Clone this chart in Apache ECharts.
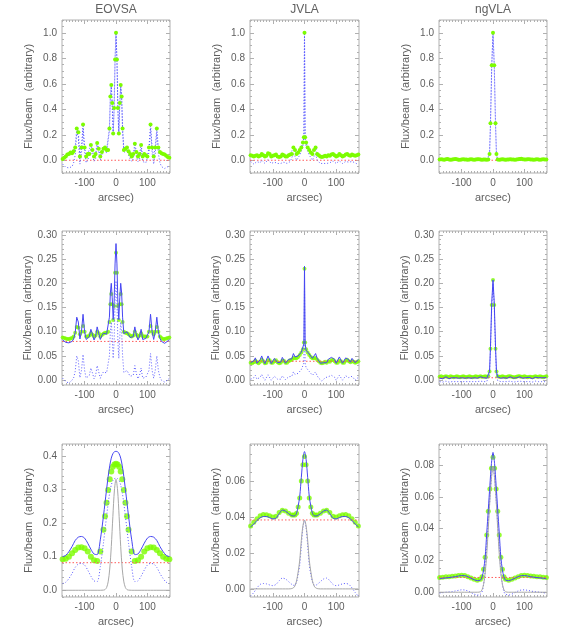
<!DOCTYPE html>
<html>
<head>
<meta charset="utf-8">
<script src="https://cdn.jsdelivr.net/npm/echarts@6/dist/echarts.min.js"></script>
<style>
html, body { margin: 0; padding: 0; background: #fff; }
#main { width: 566px; height: 638px; }
</style>
</head>
<body>
<div id="main"></div>
<script>
// ---- x grids (arcsec) ----
const xE = [-170,-165,-160,-155,-150,-145,-140,-135,-130,-125,-120,-115,-110,-105,-100,-95,-90,-85,-80,-75,-70,-65,-60,-55,-50,-45,-40,-35,-30,-25,
  -21,-18,-15,-12,-9,-6,-3,0,3,6,9,12,15,18,21,
  25,30,35,40,45,50,55,60,65,70,75,80,85,90,95,100,105,110,115,120,125,130,135,140,145,150,155,160,165,170];
const xJ = [-170,-165,-160,-155,-150,-145,-140,-135,-130,-125,-120,-115,-110,-105,-100,-95,-90,-85,-80,-75,-70,-65,-60,-55,-50,-45,-40,-35,-30,-25,-20,-15,-10,-5,
  -2,0,2,
  5,10,15,20,25,30,35,40,45,50,55,60,65,70,75,80,85,90,95,100,105,110,115,120,125,130,135,140,145,150,155,160,165,170];
const xN = [-170,-165,-160,-155,-150,-145,-140,-135,-130,-125,-120,-115,-110,-105,-100,-95,-90,-85,-80,-75,-70,-65,-60,-55,-50,-45,-40,-35,-30,-25,-20,-15,
  -11,-8,-4,0,4,8,11,
  15,20,25,30,35,40,45,50,55,60,65,70,75,80,85,90,95,100,105,110,115,120,125,130,135,140,145,150,155,160,165,170];
const x3 = [-170,-160,-150,-140,-130,-120,-110,-100,-90,-80,-70,-60,-50,-40,
  -35,-30,-25,-20,-15,-10,-5,0,5,10,15,20,25,30,35,
  40,50,60,70,80,90,100,110,120,130,140,150,160,170];

// ---- row 1 ----
const e1g = [0.01,0.02,0.03,0.045,0.05,0.06,0.055,0.07,0.1,0.25, 0.22,0.03,0.1,0.28,0.1,0.03,0.05,0.05,0.12,0.08, 0.03,0.05,0.135,0.09,0.03,0.065,0.09,0.1,0.08,0.08,
  0.25,0.5,0.59,0.45,0.21,0.41,0.79,1.0,0.79,0.41,0.21,0.45,0.59,0.5,0.25,
  0.08,0.09,0.1,0.07,0.05,0.03,0.05,0.13,0.065,0.03, 0.05,0.12,0.03,0.05,0.04,0.03,0.1,0.28,0.1,0.03, 0.1,0.25,0.1,0.065,0.055,0.05,0.045,0.035,0.025,0.02];
const e1d = [-0.03,-0.045,-0.055,-0.06,-0.06,-0.055,-0.05,-0.02,0.04,0.22, 0.18,-0.03,0.05,0.25,0.06,-0.02,0.0,0.01,0.09,0.04, -0.01,0.01,0.11,0.06,0.0,0.04,0.07,0.08,0.06,0.06,
  0.23,0.49,0.58,0.43,0.2,0.4,0.79,1.0,0.79,0.4,0.2,0.43,0.58,0.49,0.23,
  0.06,0.07,0.08,0.04,0.01,-0.01,0.01,0.1,0.03,-0.01, 0.01,0.09,-0.01,0.0,-0.02,-0.03,0.06,0.25,0.06,-0.03, 0.05,0.22,0.05,-0.02,-0.05,-0.06,-0.065,-0.06,-0.05,-0.04];
const j1g = [0.04,0.035,0.03,0.035,0.04,0.03,0.035,0.05,0.04,0.03, 0.035,0.055,0.05,0.03,0.035,0.04,0.045,0.03,0.025,0.03, 0.045,0.04,0.03,0.03,0.04,0.045,0.05,0.1,0.08,0.05, 0.06,0.08,0.1,0.14,
  0.18,1.0,0.18,
  0.14,0.1,0.08,0.06, 0.05,0.08,0.1,0.05,0.04,0.03,0.025,0.03,0.035,0.03, 0.04,0.035,0.045,0.05,0.04,0.03,0.035,0.05,0.04,0.03, 0.035,0.045,0.05,0.04,0.035,0.045,0.04,0.035,0.04,0.045];
const j1d = [-0.01,-0.02,-0.03,-0.02,-0.01,-0.025,-0.02,0.0,-0.01,-0.025, -0.02,0.005,0.0,-0.025,-0.02,-0.015,-0.01,-0.025,-0.03,-0.025, -0.01,-0.015,-0.025,-0.025,-0.015,-0.01,-0.005,0.05,0.03,0.0, 0.02,0.04,0.07,0.11,
  0.17,1.0,0.17,
  0.11,0.07,0.04,0.02, 0.0,0.03,0.05,0.0,-0.015,-0.025,-0.03,-0.025,-0.02,-0.025, -0.015,-0.02,-0.01,-0.005,-0.015,-0.025,-0.02,-0.005,-0.015,-0.025, -0.02,-0.01,-0.005,-0.015,-0.02,-0.01,-0.015,-0.02,-0.03,-0.035];
const n1g = [0.005,0.008,0.006,0.004,0.007,0.009,0.006,0.004,0.005,0.008, 0.01,0.007,0.004,0.003,0.006,0.008,0.006,0.005,0.004,0.005, 0.007,0.006,0.004,0.005,0.008,0.007,0.005,0.004,0.006,0.005, 0.004,0.006,
  0.05,0.29,0.745,1.0,0.745,0.29,0.05,
  0.005,0.004, 0.006,0.007,0.005,0.004,0.005,0.006,0.008,0.006,0.005,0.004, 0.006,0.007,0.009,0.011,0.008,0.006,0.005,0.007,0.008,0.006, 0.005,0.004,0.006,0.007,0.005,0.004,0.006,0.008,0.006,0.005];
const n1d = [-0.002,0.0,-0.002,-0.004,-0.001,0.001,-0.002,-0.004,-0.003,0.0, 0.002,-0.001,-0.004,-0.005,-0.002,0.0,-0.002,-0.003,-0.004,-0.003, -0.001,-0.002,-0.004,-0.003,0.0,-0.001,-0.003,-0.004,-0.002,-0.003, -0.004,-0.002,
  0.045,0.285,0.74,1.0,0.74,0.285,0.045,
  -0.003,-0.004, -0.002,-0.001,-0.003,-0.004,-0.003,-0.002,0.0,-0.002,-0.003,-0.004, -0.002,-0.001,0.001,0.003,0.0,-0.002,-0.003,-0.001,0.0,-0.002, -0.003,-0.004,-0.002,-0.001,-0.003,-0.004,-0.002,0.0,-0.002,-0.003];

// ---- row 2 ----
const e2s = [0.083,0.08,0.078,0.077,0.077,0.078,0.08,0.085,0.098,0.13, 0.12,0.085,0.1,0.136,0.1,0.084,0.088,0.09,0.105,0.095, 0.083,0.09,0.11,0.097,0.084,0.092,0.097,0.1,0.095,0.096,
  0.13,0.18,0.2,0.17,0.125,0.16,0.24,0.282,0.24,0.16,0.125,0.17,0.2,0.18,0.13,
  0.096,0.097,0.1,0.094,0.088,0.084,0.09,0.11,0.093,0.083, 0.09,0.105,0.084,0.088,0.086,0.084,0.1,0.136,0.1,0.084, 0.1,0.13,0.1,0.086,0.08,0.077,0.076,0.078,0.081,0.084];
const e2g = [0.088,0.087,0.086,0.085,0.085,0.086,0.087,0.09,0.098,0.11, 0.108,0.095,0.1,0.112,0.1,0.09,0.09,0.092,0.097,0.094, 0.09,0.092,0.1,0.097,0.09,0.093,0.096,0.098,0.098,0.1,
  0.12,0.157,0.178,0.157,0.124,0.153,0.222,0.263,0.222,0.153,0.124,0.157,0.178,0.157,0.12,
  0.1,0.098,0.097,0.095,0.092,0.09,0.092,0.1,0.094,0.09, 0.092,0.097,0.091,0.09,0.09,0.09,0.1,0.112,0.1,0.095, 0.1,0.11,0.1,0.09,0.087,0.085,0.085,0.086,0.087,0.088];
const e2d = [0.004,0.0,-0.003,-0.005,-0.006,-0.004,0.0,0.005,0.018,0.05, 0.04,0.005,0.02,0.053,0.02,0.004,0.008,0.01,0.025,0.015, 0.003,0.01,0.03,0.017,0.004,0.012,0.017,0.02,0.015,0.016,
  0.05,0.1,0.12,0.09,0.045,0.08,0.16,0.205,0.16,0.08,0.045,0.09,0.12,0.1,0.05,
  0.016,0.017,0.02,0.014,0.008,0.004,0.01,0.03,0.013,0.003, 0.01,0.025,0.004,0.008,0.006,0.004,0.02,0.055,0.02,0.004, 0.02,0.05,0.02,0.006,0.0,-0.003,-0.004,-0.002,0.001,0.004];
const j2s = [0.036,0.034,0.04,0.046,0.035,0.033,0.042,0.05,0.04,0.034, 0.038,0.05,0.046,0.034,0.038,0.045,0.048,0.036,0.033,0.037, 0.047,0.044,0.035,0.035,0.043,0.046,0.044,0.055,0.048,0.045, 0.05,0.054,0.058,0.062,
  0.075,0.235,0.075,
  0.062,0.058,0.054,0.05, 0.045,0.048,0.055,0.045,0.04,0.035,0.033,0.036,0.04,0.036, 0.043,0.04,0.047,0.05,0.043,0.035,0.038,0.048,0.044,0.035, 0.038,0.046,0.05,0.042,0.037,0.045,0.042,0.036,0.038,0.043];
const j2g = [0.036,0.035,0.037,0.04,0.037,0.035,0.038,0.042,0.039,0.035, 0.036,0.041,0.041,0.036,0.036,0.039,0.041,0.037,0.035,0.036, 0.04,0.04,0.036,0.036,0.039,0.041,0.042,0.046,0.045,0.045, 0.048,0.052,0.057,0.064,
  0.078,0.23,0.078,
  0.064,0.057,0.052,0.048, 0.045,0.045,0.046,0.042,0.039,0.036,0.035,0.036,0.038,0.036, 0.039,0.038,0.041,0.042,0.039,0.036,0.036,0.04,0.039,0.036, 0.036,0.04,0.042,0.039,0.037,0.039,0.038,0.036,0.037,0.039];
const j2d = [0.002,0.0,0.005,0.01,0.002,-0.001,0.006,0.012,0.005,0.0, 0.003,0.011,0.008,0.0,0.003,0.008,0.01,0.002,-0.001,0.002, 0.009,0.007,0.001,0.002,0.007,0.01,0.008,0.017,0.012,0.01, 0.014,0.018,0.022,0.026,
  0.035,0.195,0.035,
  0.026,0.022,0.018,0.014, 0.01,0.012,0.017,0.009,0.004,0.0,-0.002,0.001,0.005,0.001, 0.007,0.004,0.01,0.012,0.006,0.0,0.002,0.01,0.007,0.0, 0.002,0.009,0.012,0.005,0.001,0.008,0.005,0.0,0.002,0.006];
const n2s = [0.004,0.006,0.003,0.005,0.007,0.004,0.003,0.006,0.005,0.003, 0.005,0.007,0.004,0.003,0.005,0.006,0.004,0.003,0.005,0.006, 0.004,0.003,0.005,0.006,0.004,0.005,0.007,0.004,0.005,0.006, 0.004,0.007,
  0.018,0.07,0.16,0.207,0.16,0.07,0.018,
  0.007,0.005, 0.004,0.006,0.005,0.003,0.004,0.006,0.007,0.005,0.004,0.003, 0.005,0.006,0.007,0.005,0.004,0.006,0.005,0.004,0.006,0.005, 0.003,0.005,0.006,0.004,0.005,0.007,0.005,0.004,0.005,0.006];
const n2g = [0.007,0.008,0.006,0.007,0.008,0.007,0.006,0.008,0.007,0.006, 0.007,0.008,0.007,0.006,0.007,0.008,0.007,0.006,0.007,0.008, 0.007,0.006,0.007,0.008,0.007,0.007,0.008,0.007,0.007,0.008, 0.007,0.008,
  0.018,0.065,0.155,0.207,0.155,0.065,0.018,
  0.008,0.007, 0.007,0.008,0.007,0.006,0.007,0.008,0.008,0.007,0.006,0.006, 0.007,0.008,0.008,0.007,0.007,0.008,0.007,0.006,0.007,0.007, 0.006,0.007,0.008,0.007,0.007,0.008,0.007,0.006,0.007,0.008];
const n2d = [-0.003,-0.002,-0.004,-0.003,-0.002,-0.003,-0.004,-0.002,-0.003,-0.004, -0.003,-0.002,-0.003,-0.004,-0.003,-0.002,-0.003,-0.004,-0.003,-0.002, -0.003,-0.004,-0.003,-0.002,-0.003,-0.003,-0.002,-0.003,-0.003,-0.002, -0.003,-0.001,
  0.012,0.062,0.152,0.2,0.152,0.062,0.012,
  -0.001,-0.003, -0.003,-0.002,-0.003,-0.004,-0.003,-0.002,-0.002,-0.003,-0.004,-0.003, -0.003,-0.002,-0.002,-0.003,-0.003,-0.002,-0.003,-0.004,-0.003,-0.003, -0.004,-0.003,-0.002,-0.003,-0.003,-0.002,-0.003,-0.004,-0.003,-0.002];

// ---- row 3 ----
const e3s = [0.1,0.104,0.115,0.13,0.148,0.158,0.16,0.155,0.14,0.122,0.108,0.106,0.15,0.22,
  0.26,0.3,0.338,0.37,0.393,0.406,0.412,0.413,0.412,0.406,0.393,0.37,0.338,0.3,0.26,
  0.22,0.15,0.106,0.108,0.122,0.14,0.155,0.16,0.158,0.148,0.13,0.115,0.104,0.1];
const e3g = [0.092,0.094,0.1,0.11,0.12,0.127,0.128,0.125,0.115,0.1,0.089,0.087,0.115,0.18,
  0.22,0.26,0.298,0.33,0.353,0.367,0.374,0.376,0.374,0.367,0.353,0.33,0.298,0.26,0.22,
  0.18,0.115,0.087,0.089,0.1,0.115,0.125,0.128,0.127,0.12,0.11,0.1,0.094,0.092];
const e3d = [0.02,0.024,0.035,0.05,0.068,0.078,0.08,0.075,0.06,0.042,0.028,0.026,0.07,0.14,
  0.18,0.22,0.258,0.29,0.313,0.326,0.332,0.333,0.332,0.326,0.313,0.29,0.258,0.22,0.18,
  0.14,0.07,0.026,0.028,0.042,0.06,0.075,0.08,0.078,0.068,0.05,0.035,0.024,0.02];
const e3b = [0,0,0,0,0,0,0,0,0,0,0,0,0,0.0005,
  0.002,0.008,0.025,0.063,0.13,0.219,0.298,0.33,0.298,0.219,0.13,0.063,0.025,0.008,0.002,
  0.0005,0,0,0,0,0,0,0,0,0,0,0,0,0];
const j3s = [0.0345,0.036,0.038,0.0395,0.0402,0.0402,0.0396,0.0389,0.0393,0.0418,0.0438,0.0432,0.0418,0.0406,
  0.0405,0.0407,0.042,0.046,0.0515,0.062,0.072,0.0763,0.072,0.062,0.0515,0.046,0.042,0.0407,0.0405,
  0.0406,0.0418,0.0432,0.0438,0.0418,0.0393,0.0389,0.0396,0.0402,0.0402,0.0395,0.038,0.036,0.0345];
const j3g = [0.035,0.037,0.039,0.0407,0.0413,0.0412,0.0406,0.04,0.0404,0.0424,0.0437,0.0433,0.042,0.041,
  0.041,0.041,0.042,0.0455,0.0505,0.06,0.069,0.0735,0.069,0.06,0.0505,0.0455,0.042,0.041,0.041,
  0.041,0.042,0.0433,0.0437,0.0424,0.0404,0.04,0.0406,0.0412,0.0413,0.0407,0.039,0.037,0.035];
const j3d = [-0.004,-0.002,0.0005,0.0025,0.003,0.0028,0.0022,0.0018,0.0025,0.0045,0.006,0.0055,0.004,0.0025,
  0.002,0.0022,0.004,0.008,0.0135,0.024,0.034,0.038,0.034,0.024,0.0135,0.008,0.004,0.0022,0.002,
  0.0025,0.004,0.0055,0.006,0.0045,0.0025,0.0018,0.0022,0.0028,0.003,0.0025,0.0005,-0.002,-0.004];
const j3b = [0,0,0,0,0,0,0,0,0,0,0,0,0,0.0002,
  0.0006,0.0017,0.0045,0.0095,0.016,0.027,0.035,0.0383,0.035,0.027,0.016,0.0095,0.0045,0.0017,0.0006,
  0.0002,0,0,0,0,0,0,0,0,0,0,0,0,0];
const n3s = [0.0085,0.0088,0.009,0.0092,0.0095,0.0098,0.0102,0.0105,0.0104,0.0098,0.0088,0.0079,0.0073,0.0076,
  0.0095,0.014,0.022,0.037,0.052,0.067,0.081,0.088,0.081,0.067,0.052,0.037,0.022,0.014,0.0095,
  0.0076,0.0073,0.0079,0.0088,0.0098,0.0104,0.0105,0.0102,0.0098,0.0095,0.0092,0.009,0.0088,0.0085];
const n3g = [0.0093,0.0095,0.0097,0.0098,0.01,0.0102,0.0105,0.0107,0.0105,0.0098,0.009,0.0081,0.0076,0.0082,
  0.0098,0.0145,0.022,0.036,0.051,0.065,0.078,0.085,0.078,0.065,0.051,0.036,0.022,0.0145,0.0098,
  0.0082,0.0076,0.0081,0.009,0.0098,0.0105,0.0107,0.0105,0.0102,0.01,0.0098,0.0097,0.0095,0.0093];
const n3d = [-0.0005,-0.0003,0.0,0.0002,0.0004,0.0008,0.0012,0.0015,0.0014,0.0008,-0.0002,-0.0012,-0.0018,-0.0012,
  0.0002,0.0048,0.013,0.028,0.043,0.058,0.072,0.079,0.072,0.058,0.043,0.028,0.013,0.0048,0.0002,
  -0.0012,-0.0018,-0.0012,-0.0002,0.0008,0.0014,0.0015,0.0012,0.0008,0.0004,0.0002,0.0,-0.0003,-0.0005];
const n3b = [0,0,0,0,0,0,0,0,0,0,0,0,0,0.0003,
  0.0015,0.005,0.012,0.024,0.04,0.058,0.072,0.079,0.072,0.058,0.04,0.024,0.012,0.005,0.0015,
  0.0003,0,0,0,0,0,0,0,0,0,0,0,0,0];

// red dotted levels per row / column
const noiseLevels = [[0, 0, 0], [0.08, 0.039, 0.005], [0.082, 0.0383, 0.0093]];

// ---- axes ----
const titles = ['EOVSA', 'JVLA', 'ngVLA'];
const xRange = [-172, 172];
const xTicks = [-100, 0, 100];
const yTicksRow1 = [0, 0.2, 0.4, 0.6, 0.8, 1.0];
const yTicksRow2 = [0, 0.05, 0.10, 0.15, 0.20, 0.25, 0.30];
const yTicksEovsa3 = [0, 0.1, 0.2, 0.3, 0.4];
const yTicksJvla3 = [0, 0.02, 0.04, 0.06];
const yTicksNgvla3 = [0, 0.02, 0.04, 0.06, 0.08];

const colLeft = [62, 250, 439];
const colWidth = [108, 109, 108];
const rowTop = [20, 231, 444];
const rowHeight = [153, 154, 153];

const panels = [
    { r: 0, c: 0, x: xE, yMin: -0.1, yMax: 1.1, ticks: yTicksRow1, minor: 0.05, dec: 1, green: e1g, dot: e1d },
    { r: 0, c: 1, x: xJ, yMin: -0.1, yMax: 1.1, ticks: yTicksRow1, minor: 0.05, dec: 1, green: j1g, dot: j1d },
    { r: 0, c: 2, x: xN, yMin: -0.1, yMax: 1.1, ticks: yTicksRow1, minor: 0.05, dec: 1, green: n1g, dot: n1d },
    { r: 1, c: 0, x: xE, yMin: -0.01, yMax: 0.308, ticks: yTicksRow2, minor: 0.01, dec: 2, green: e2g, dot: e2d, solid: e2s },
    { r: 1, c: 1, x: xJ, yMin: -0.01, yMax: 0.308, ticks: yTicksRow2, minor: 0.01, dec: 2, green: j2g, dot: j2d, solid: j2s },
    { r: 1, c: 2, x: xN, yMin: -0.01, yMax: 0.308, ticks: yTicksRow2, minor: 0.01, dec: 2, green: n2g, dot: n2d, solid: n2s },
    { r: 2, c: 0, x: x3, yMin: -0.02, yMax: 0.435, ticks: yTicksEovsa3, minor: 0.02, dec: 1, green: e3g, dot: e3d, solid: e3s, beam: e3b, size: 6 },
    { r: 2, c: 1, x: x3, yMin: -0.0045, yMax: 0.0805, ticks: yTicksJvla3, minor: 0.005, dec: 2, green: j3g, dot: j3d, solid: j3s, beam: j3b, size: 5 },
    { r: 2, c: 2, x: x3, yMin: -0.003, yMax: 0.0933, ticks: yTicksNgvla3, minor: 0.005, dec: 2, green: n3g, dot: n3d, solid: n3s, beam: n3b, size: 5 }
];

const font = 'Liberation Sans, Arial, sans-serif';
const textColor = '#5e5e5e';
const boxColor = '#b0b0b0';
const blue = '#4646f2', blueDot = '#5a5aff', green = '#7cfc00', red = '#ff5a5a', gray = '#a8a8a8';

function zip(xs, ys) {
    if (xs.length !== ys.length) throw new Error('length mismatch ' + xs.length + ' vs ' + ys.length);
    return xs.map((v, i) => [v, ys[i]]);
}
function steps(min, max, step) {
    const out = [];
    for (let v = Math.ceil(min / step - 1e-9) * step; v <= max + 1e-9; v += step) out.push(+v.toFixed(6));
    return out;
}

const grids = [], xAxes = [], yAxes = [], series = [], graphics = [];
const xMinor = steps(-170, 170, 10);

panels.forEach((p, i) => {
    grids.push({
        left: colLeft[p.c], top: rowTop[p.r], width: colWidth[p.c], height: rowHeight[p.r],
        show: true, borderColor: boxColor, borderWidth: 1, backgroundColor: 'transparent'
    });
    const tickStyle = { color: boxColor, width: 1 };
    const hiddenLine = { show: false, onZero: false };
    const xBase = { type: 'value', gridIndex: i, min: xRange[0], max: xRange[1],
        splitLine: { show: false }, axisLine: hiddenLine, axisLabel: { show: false } };
    const xi = xAxes.length;
    xAxes.push(Object.assign({}, xBase, {
        position: 'bottom',
        axisLabel: { show: true, customValues: xTicks, formatter: v => String(v), margin: 5,
            color: textColor, fontSize: 10, fontFamily: font },
        axisTick: { show: true, inside: true, length: 4, customValues: xTicks, lineStyle: tickStyle },
        name: 'arcsec)', nameLocation: 'middle', nameGap: 19,
        nameTextStyle: { color: textColor, fontSize: 11, fontFamily: font }
    }));
    xAxes.push(Object.assign({}, xBase, { position: 'bottom',
        axisTick: { show: true, inside: true, length: 2, customValues: xMinor, lineStyle: tickStyle } }));
    xAxes.push(Object.assign({}, xBase, { position: 'top',
        axisTick: { show: true, inside: true, length: 4, customValues: xTicks, lineStyle: tickStyle } }));
    xAxes.push(Object.assign({}, xBase, { position: 'top',
        axisTick: { show: true, inside: true, length: 2, customValues: xMinor, lineStyle: tickStyle } }));

    const yMinor = steps(p.yMin, p.yMax, p.minor);
    const yBase = { type: 'value', gridIndex: i, min: p.yMin, max: p.yMax,
        splitLine: { show: false }, axisLine: hiddenLine, axisLabel: { show: false } };
    const yi = yAxes.length;
    yAxes.push(Object.assign({}, yBase, {
        position: 'left',
        axisLabel: { show: true, customValues: p.ticks, formatter: v => (+v).toFixed(p.dec), margin: 5,
            color: textColor, fontSize: 10, fontFamily: font },
        axisTick: { show: true, inside: true, length: 4, customValues: p.ticks, lineStyle: tickStyle },
        name: 'Flux/beam  (arbitrary)', nameLocation: 'middle', nameGap: 28, nameRotate: 90,
        nameTextStyle: { color: textColor, fontSize: 11, fontFamily: font }
    }));
    yAxes.push(Object.assign({}, yBase, { position: 'left',
        axisTick: { show: true, inside: true, length: 2, customValues: yMinor, lineStyle: tickStyle } }));
    yAxes.push(Object.assign({}, yBase, { position: 'right',
        axisTick: { show: true, inside: true, length: 4, customValues: p.ticks, lineStyle: tickStyle } }));
    yAxes.push(Object.assign({}, yBase, { position: 'right',
        axisTick: { show: true, inside: true, length: 2, customValues: yMinor, lineStyle: tickStyle } }));

    const level = noiseLevels[p.r][p.c];
    const common = { xAxisIndex: xi, yAxisIndex: yi, silent: true, animation: false };

    series.push(Object.assign({}, common, {
        type: 'line', symbol: 'none', data: zip(xRange, [level, level]),
        lineStyle: { color: red, type: [1.5, 2], width: 1 }
    }));
    series.push(Object.assign({}, common, {
        type: 'line', symbol: 'none', data: zip(p.x, p.dot), smooth: p.beam ? 0.3 : false,
        lineStyle: { color: blueDot, type: [1, 2], width: 1 }
    }));
    if (p.beam) {
        series.push(Object.assign({}, common, {
            type: 'line', symbol: 'none', data: zip(p.x, p.beam), smooth: 0.3,
            lineStyle: { color: gray, width: 1 }
        }));
    }
    if (p.r === 0) {
        series.push(Object.assign({}, common, {
            type: 'line', data: zip(p.x, p.green), symbol: 'circle', symbolSize: 4, showAllSymbol: true,
            itemStyle: { color: green }, lineStyle: { color: blueDot, type: [1, 2], width: 1 }
        }));
    } else {
        series.push(Object.assign({}, common, {
            type: 'scatter', data: zip(p.x, p.green), symbol: 'circle', symbolSize: p.size || 4,
            itemStyle: { color: green }
        }));
        series.push(Object.assign({}, common, {
            type: 'line', symbol: 'none', data: zip(p.x, p.solid), smooth: p.beam ? 0.3 : false,
            lineStyle: { color: blue, width: 1 }
        }));
    }
});

titles.forEach((t, c) => {
    graphics.push({
        type: 'text', x: colLeft[c] + colWidth[c] / 2, y: 10,
        style: { text: t, fill: '#606060', font: '12px ' + font,
            textAlign: 'center', textVerticalAlign: 'middle', align: 'center', verticalAlign: 'middle' }
    });
});

const chart = echarts.init(document.getElementById('main'), null, { renderer: 'canvas' });
chart.setOption({
    animation: false,
    backgroundColor: '#fff',
    grid: grids,
    xAxis: xAxes,
    yAxis: yAxes,
    series: series,
    graphic: graphics
});
</script>
</body>
</html>
